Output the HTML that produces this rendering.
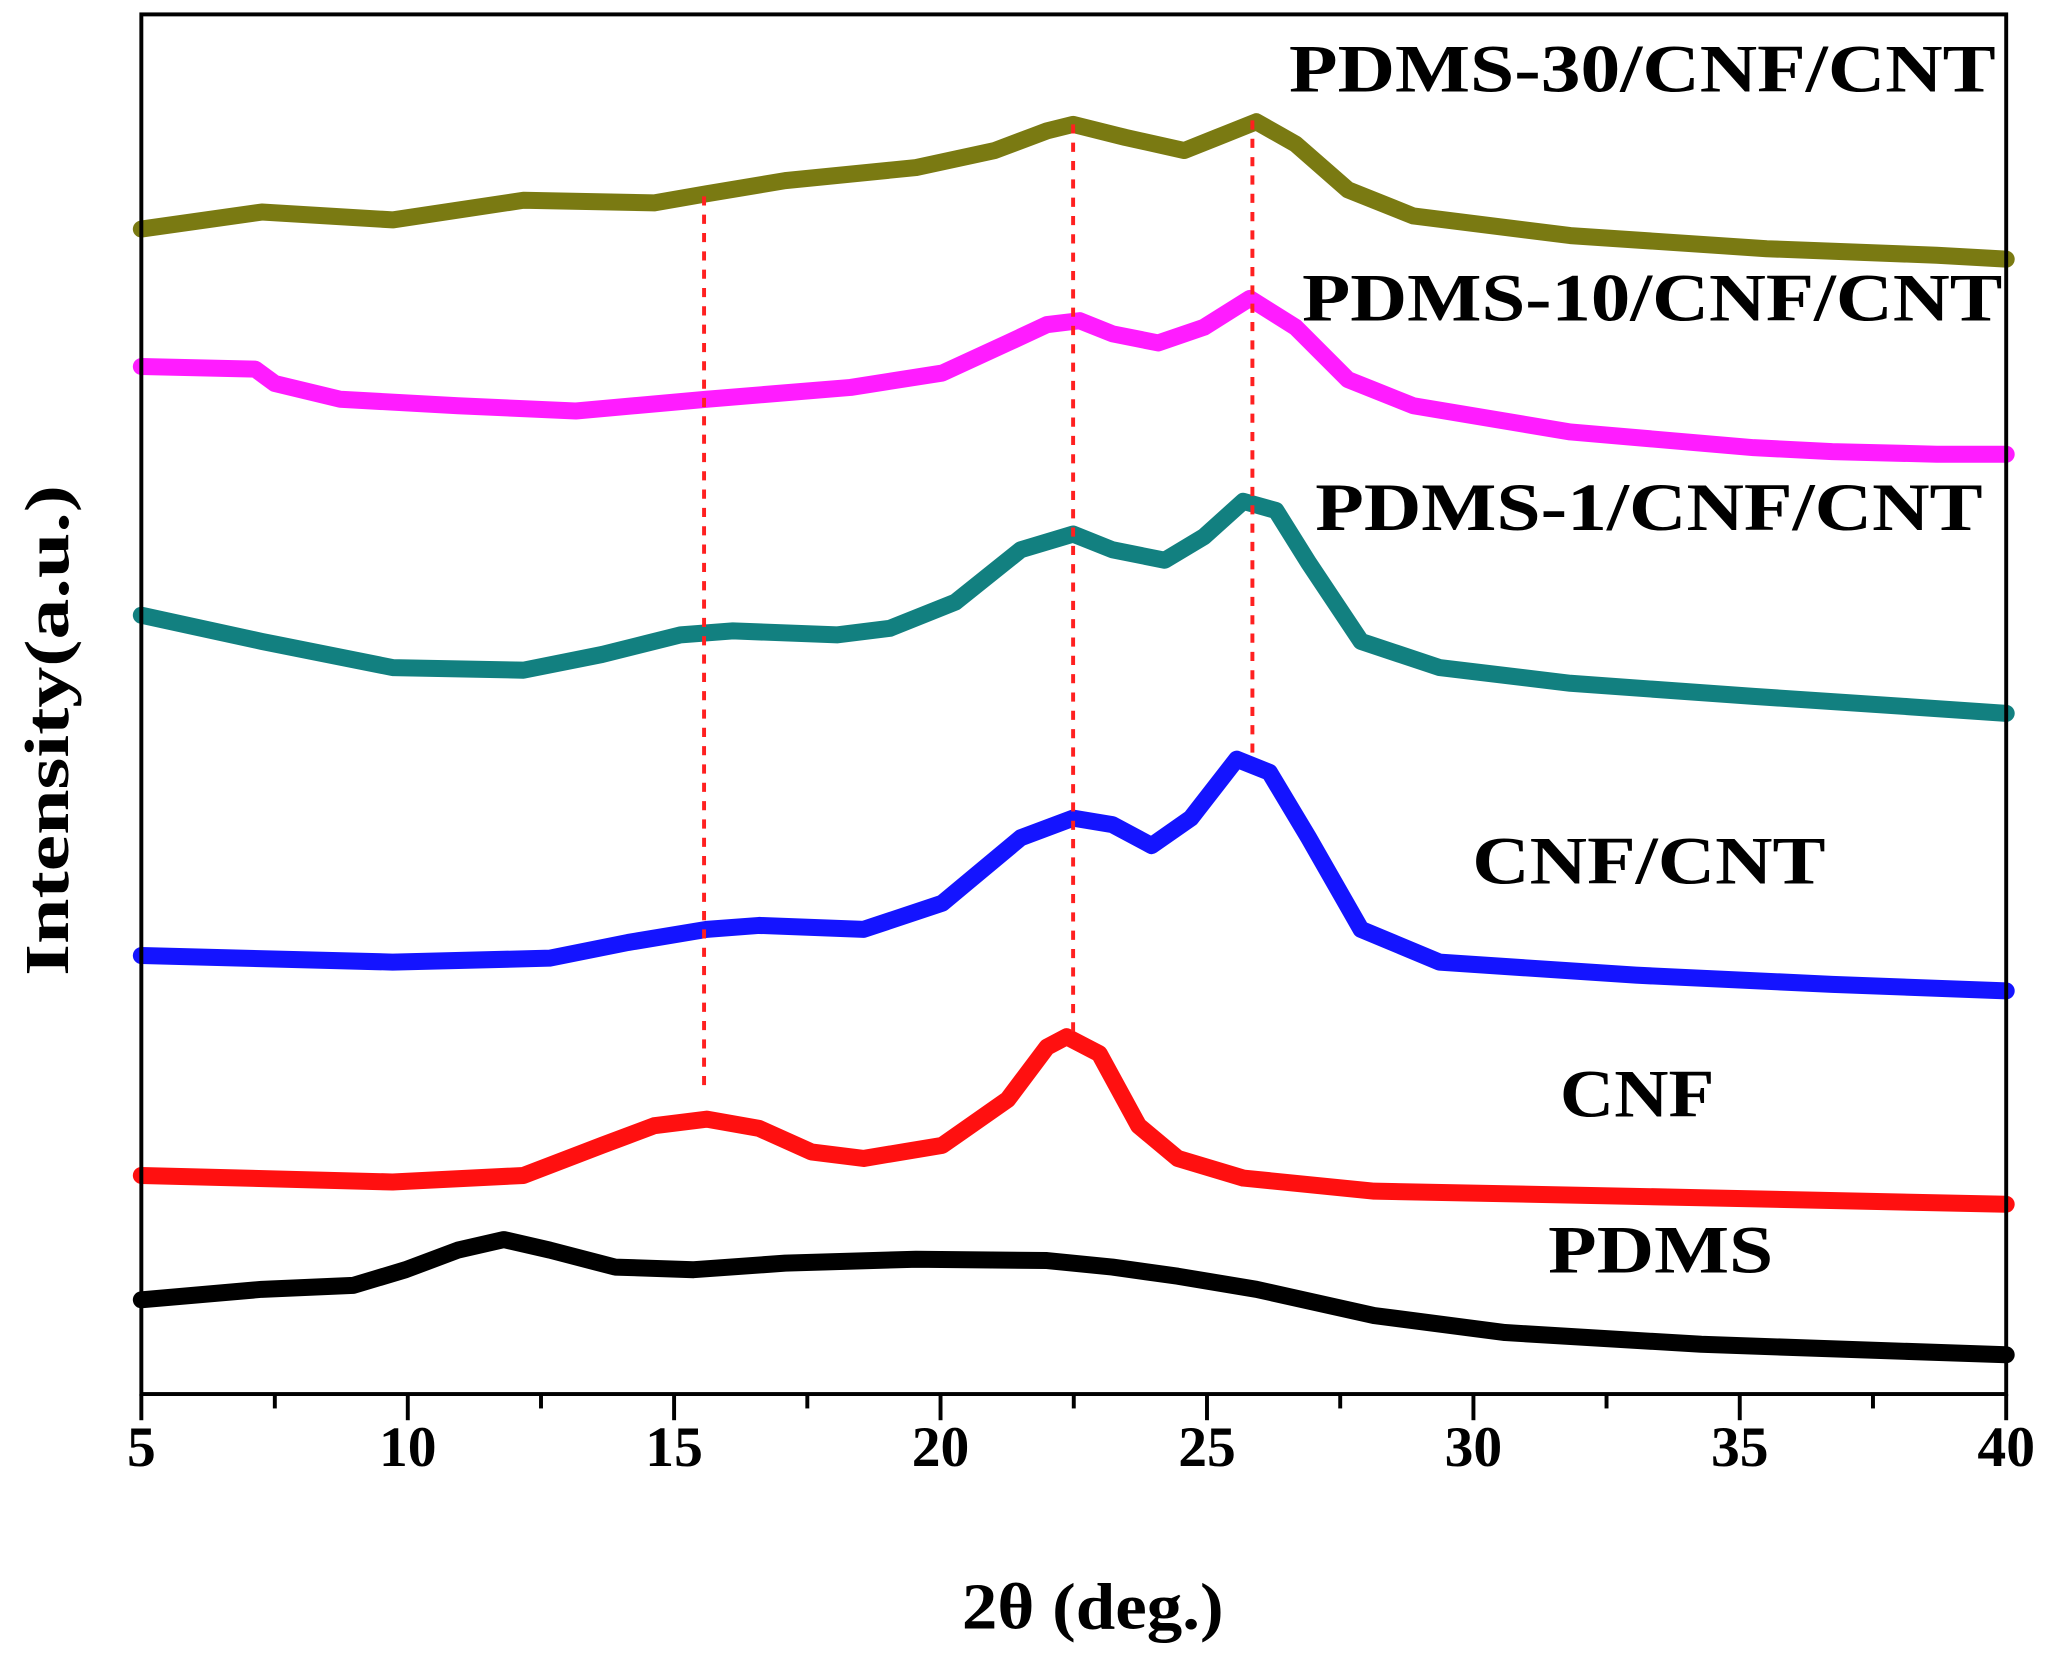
<!DOCTYPE html>
<html><head><style>html,body{margin:0;padding:0;background:#fff}svg{display:block}</style></head>
<body>
<svg id="s" width="2052" height="1665" viewBox="0 0 1568 1272" preserveAspectRatio="none" xmlns="http://www.w3.org/2000/svg" font-family="Liberation Serif, serif" font-weight="bold">
<rect width="1568" height="1272" fill="#fff"/>
<g id="curves" fill="none" stroke-linejoin="round" stroke-linecap="round" stroke-width="13">
<polyline stroke="#7a7a12" points="108,175 200,162 300,168 400,153 500,155 540,148 600,138 700,128 760,115 800,100 820,95 860,105 905,115 930,105 960,93 990,110 1030,145 1080,165 1200,180 1350,190 1480,195 1533,198"/>
<polyline stroke="#ff1cff" points="108,280 195,282 210,293 260,305 350,310 440,314 540,305 650,296 720,285 770,262 800,248 825,245 850,255 885,262 920,250 955,228 990,250 1030,290 1080,310 1200,330 1340,342 1400,345 1480,347 1533,347"/>
<polyline stroke="#128080" points="108,470 200,490 300,510 400,512 460,500 520,485 560,482 640,485 680,480 730,460 780,420 820,408 850,420 890,428 920,410 950,383 975,390 1000,430 1040,490 1100,510 1200,522 1340,532 1460,540 1533,545"/>
<polyline stroke="#1414ff" points="108,730 300,735 420,732 480,720 540,710 580,707 660,710 720,690 780,640 820,625 850,630 880,646 910,625 945,580 970,590 1000,640 1040,710 1100,735 1250,745 1400,752 1533,757"/>
<polyline stroke="#ff1010" points="108,898 300,903 400,898 460,875 500,860 540,855 580,862 620,880 660,885 720,875 770,840 800,800 815,792 840,805 870,860 900,885 950,900 1050,910 1300,915 1533,920"/>
<polyline stroke="#000" points="108,993 200,985 270,982 310,970 350,955 385,947 420,955 470,968 530,970 600,965 700,962 800,963 850,968 900,975 960,985 1050,1005 1150,1018 1300,1027 1533,1035"/>
</g>
<g stroke="#ff2020" stroke-width="3" stroke-dasharray="7,7">
<line x1="538" y1="150" x2="538" y2="830"/>
<line x1="820" y1="95" x2="820" y2="790"/>
<line x1="957" y1="92" x2="957" y2="580"/>
</g>
<rect x="108" y="11" width="1425" height="1054" fill="none" stroke="#000" stroke-width="3"/>
<g stroke="#000" stroke-width="3">
<line x1="108" y1="1065" x2="108" y2="1085"/>
<line x1="210" y1="1065" x2="210" y2="1076"/>
<line x1="311.6" y1="1065" x2="311.6" y2="1085"/><line x1="413.4" y1="1065" x2="413.4" y2="1076"/>
<line x1="515.1" y1="1065" x2="515.1" y2="1085"/><line x1="616.9" y1="1065" x2="616.9" y2="1076"/>
<line x1="718.7" y1="1065" x2="718.7" y2="1085"/><line x1="820.5" y1="1065" x2="820.5" y2="1076"/>
<line x1="922.3" y1="1065" x2="922.3" y2="1085"/><line x1="1024.1" y1="1065" x2="1024.1" y2="1076"/>
<line x1="1125.9" y1="1065" x2="1125.9" y2="1085"/><line x1="1227.6" y1="1065" x2="1227.6" y2="1076"/>
<line x1="1329.4" y1="1065" x2="1329.4" y2="1085"/><line x1="1431.2" y1="1065" x2="1431.2" y2="1076"/>
<line x1="1533" y1="1065" x2="1533" y2="1085"/>
</g>
<g font-size="44" text-anchor="middle" fill="#000">
<text x="108" y="1120">5</text><text x="311.6" y="1120">10</text><text x="515.1" y="1120">15</text>
<text x="718.7" y="1120">20</text><text x="922.3" y="1120">25</text><text x="1125.9" y="1120">30</text>
<text x="1329.4" y="1120">35</text><text x="1533" y="1120">40</text>
<text x="835" y="1244" font-size="50" textLength="200" lengthAdjust="spacingAndGlyphs">2θ (deg.)</text>
<text transform="translate(52,558) rotate(-90)" font-size="48" textLength="375" lengthAdjust="spacingAndGlyphs">Intensity(a.u.)</text>
</g>
<g font-size="52" fill="#000">
<text x="985" y="70" textLength="540" lengthAdjust="spacingAndGlyphs">PDMS-30/CNF/CNT</text>
<text x="995" y="245" textLength="535" lengthAdjust="spacingAndGlyphs">PDMS-10/CNF/CNT</text>
<text x="1005" y="405" textLength="510" lengthAdjust="spacingAndGlyphs">PDMS-1/CNF/CNT</text>
<text x="1125" y="675" textLength="270" lengthAdjust="spacingAndGlyphs">CNF/CNT</text>
<text x="1192" y="853" textLength="118" lengthAdjust="spacingAndGlyphs">CNF</text>
<text x="1183" y="972" textLength="172" lengthAdjust="spacingAndGlyphs">PDMS</text>
</g>
<script>
(function(){
var NS="http://www.w3.org/2000/svg";
var pls=document.querySelectorAll("#curves polyline");
for(var i=0;i<pls.length;i++){
var pl=pls[i];
var pts=pl.getAttribute("points").trim().split(/\s+/).map(function(p){return p.split(",").map(Number);});
var d="M"+pts[0][0]+","+pts[0][1];
for(var k=0;k<pts.length-1;k++){
var p0=pts[k-1]||pts[k],p1=pts[k],p2=pts[k+1],p3=pts[k+2]||p2;
var c1x=p1[0]+(p2[0]-p0[0])/6,c1y=p1[1]+(p2[1]-p0[1])/6;
var c2x=p2[0]-(p3[0]-p1[0])/6,c2y=p2[1]-(p3[1]-p1[1])/6;
d+=" C"+c1x+","+c1y+" "+c2x+","+c2y+" "+p2[0]+","+p2[1];
}
var path=document.createElementNS(NS,"path");
path.setAttribute("d",d);
path.setAttribute("stroke",pl.getAttribute("stroke"));
pl.parentNode.replaceChild(path,pl);
}
})();
</script>
</svg>
</body></html>
